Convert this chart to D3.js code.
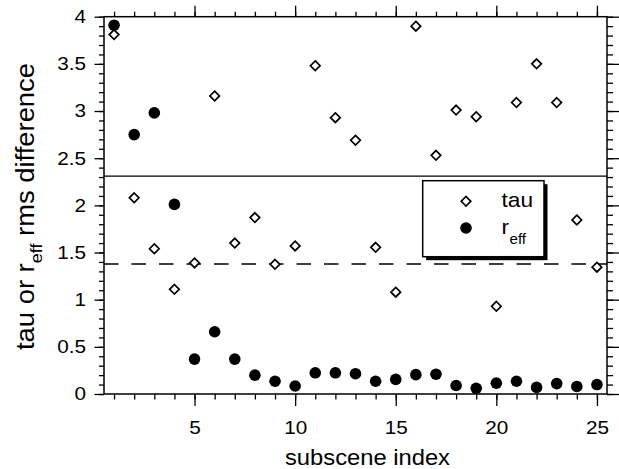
<!DOCTYPE html>
<html><head><meta charset="utf-8">
<script src="https://cdn.jsdelivr.net/npm/d3@7"></script>
<style>
html,body{margin:0;padding:0;background:#fff;}
text{font-family:"Liberation Sans",Arial,Helvetica,sans-serif;fill:#000;}
</style></head>
<body><svg id="c" width="619" height="469"></svg>
<script>
// ---- data ----
const subscene = [1,2,3,4,5,6,7,8,9,10,11,12,13,14,15,16,17,18,19,20,21,22,23,24,25];
const tau = [3.81,2.08,1.54,1.11,1.39,3.16,1.60,1.87,1.375,1.57,3.48,2.93,2.69,1.555,1.08,3.90,2.53,3.01,2.94,0.93,3.09,3.50,3.09,1.845,1.345];
const reff = [3.91,2.75,2.98,2.01,0.37,0.66,0.37,0.20,0.135,0.085,0.225,0.225,0.215,0.135,0.155,0.205,0.21,0.09,0.06,0.115,0.135,0.07,0.11,0.08,0.10];
const xMajorTicks = [5,10,15,20,25];
const yMajorTicks = [0,0.5,1,1.5,2,2.5,3,3.5,4];
const yTickLabels = ["0","0.5","1","1.5","2","2.5","3","3.5","4"];
const solidLineValue = 2.31;
const dashedLineValue = 1.378;

// ---- layout ----
const L = 104, R = 607, T = 16.7, B = 394;
const svg = d3.select("#c");
const x = d3.scaleLinear().domain([0.5, 25.5]).range([L, R]);
const y = d3.scaleLinear().domain([0, 4]).range([B, T]);
const STRETCH = 1.12;
const TICKFS = 18.5;

function stretch(sel, f) {
  sel.each(function(){
    const n = this.getComputedTextLength();
    d3.select(this).attr("textLength", n * f).attr("lengthAdjust", "spacingAndGlyphs");
  });
}

const minorX = d3.range(1, 26);
const minorY = d3.range(0, 41).map(d => d / 10);

function styleAxis(g){ g.select(".domain").remove(); g.selectAll("line").attr("stroke","#000").attr("stroke-width",1.3); }

// bottom
svg.append("g").attr("transform",`translate(0,${B})`)
  .call(d3.axisBottom(x).tickValues(minorX).tickSize(5.5).tickFormat("")).call(styleAxis);
const bx = svg.append("g").attr("transform",`translate(0,${B})`)
  .call(d3.axisBottom(x).tickValues(xMajorTicks).tickSize(12).tickPadding(14.5).tickFormat(d3.format("d"))).call(styleAxis);
bx.selectAll("text").attr("font-size",TICKFS).attr("font-family",'"Liberation Sans",Arial,sans-serif').attr("fill","#000");
stretch(bx.selectAll("text"), STRETCH);
// top
svg.append("g").attr("transform",`translate(0,${T})`)
  .call(d3.axisTop(x).tickValues(minorX).tickSize(5).tickFormat("")).call(styleAxis);
svg.append("g").attr("transform",`translate(0,${T})`)
  .call(d3.axisTop(x).tickValues(xMajorTicks).tickSize(11).tickFormat("")).call(styleAxis);
// left
svg.append("g").attr("transform",`translate(${L},0)`)
  .call(d3.axisLeft(y).tickValues(minorY).tickSize(5).tickFormat("")).call(styleAxis);
const ly = svg.append("g").attr("transform",`translate(${L},0)`)
  .call(d3.axisLeft(y).tickValues(yMajorTicks).tickSize(9.5).tickPadding(8.5).tickFormat((d,i)=>yTickLabels[i])).call(styleAxis);
ly.selectAll("text").attr("font-size",TICKFS).attr("font-family",'"Liberation Sans",Arial,sans-serif').attr("fill","#000");
stretch(ly.selectAll("text"), STRETCH);
// right
svg.append("g").attr("transform",`translate(${R},0)`)
  .call(d3.axisRight(y).tickValues(minorY).tickSize(6).tickFormat("")).call(styleAxis);
svg.append("g").attr("transform",`translate(${R},0)`)
  .call(d3.axisRight(y).tickValues(yMajorTicks).tickSize(12).tickFormat("")).call(styleAxis);

// frame
svg.append("rect").attr("x",L).attr("y",T).attr("width",R-L).attr("height",B-T)
  .attr("fill","none").attr("stroke","#000").attr("stroke-width",1.5);

// reference lines
svg.append("line").attr("x1",L).attr("x2",R).attr("y1",y(solidLineValue)).attr("y2",y(solidLineValue))
  .attr("stroke","#000").attr("stroke-width",1.3);
svg.append("line").attr("x1",L).attr("x2",R).attr("y1",y(dashedLineValue)).attr("y2",y(dashedLineValue))
  .attr("stroke","#000").attr("stroke-width",1.3).attr("stroke-dasharray","14.5 13");

// legend
const lg = svg.append("g");
const lx0 = 422.7, ly0 = 180.7, lw = 121.3, lh = 76;
lg.append("rect").attr("x",lx0+3.5).attr("y",ly0+3.5).attr("width",lw).attr("height",lh).attr("fill","#000");
lg.append("rect").attr("x",lx0).attr("y",ly0).attr("width",lw).attr("height",lh).attr("fill","#fff").attr("stroke","#000").attr("stroke-width",1.5);

function drawDiamond(sel, cx, cy){
  const h = 4.8;
  sel.append("path").attr("d",`M${cx},${cy-h}L${cx+h},${cy}L${cx},${cy+h}L${cx-h},${cy}Z`)
    .attr("fill","#fff").attr("stroke","#000").attr("stroke-width",1.7);
}
drawDiamond(lg, 466, 201.3);
lg.append("circle").attr("cx",466).attr("cy",228).attr("r",5.8).attr("fill","#000");
const t1 = lg.append("text").attr("x",501.5).attr("y",207).attr("font-size",21).text("tau");
stretch(t1, 1.08);
const t2 = lg.append("text").attr("x",501.5).attr("y",234).attr("font-size",21).text("r");
stretch(t2, 1.08);
const t3 = lg.append("text").attr("x",509.5).attr("y",243.5).attr("font-size",14).text("eff");
stretch(t3, 1.08);

// data
const pts = svg.append("g");
subscene.forEach((s,i)=> drawDiamond(pts, x(s), y(tau[i])));
pts.selectAll("circle").data(subscene).join("circle")
  .attr("cx", d => x(d)).attr("cy", (d,i) => y(reff[i])).attr("r",5.8).attr("fill","#000");

// x label
const xl = svg.append("text").attr("x",285).attr("y",465).attr("font-size",21.5).text("subscene index");
xl.attr("textLength",165).attr("lengthAdjust","spacingAndGlyphs");

// y label
const yg = svg.append("g").attr("transform","translate(34,350) rotate(-90)");
const a = yg.append("text").attr("x",0).attr("y",0).attr("font-size",25).text("tau or r");
const b = yg.append("text").attr("y",8).attr("font-size",16.5).text("eff");
const c = yg.append("text").attr("y",0).attr("font-size",25).attr("xml:space","preserve").text(" rms difference");
const na = a.node().getComputedTextLength(), nb = b.node().getComputedTextLength(), nc = c.node().getComputedTextLength();
const f = 287 / (na + nb + nc);
a.attr("textLength", na*f).attr("lengthAdjust","spacingAndGlyphs");
b.attr("x", na*f).attr("textLength", nb*f).attr("lengthAdjust","spacingAndGlyphs");
c.attr("x", (na+nb)*f).attr("textLength", nc*f).attr("lengthAdjust","spacingAndGlyphs");
</script></body></html>
